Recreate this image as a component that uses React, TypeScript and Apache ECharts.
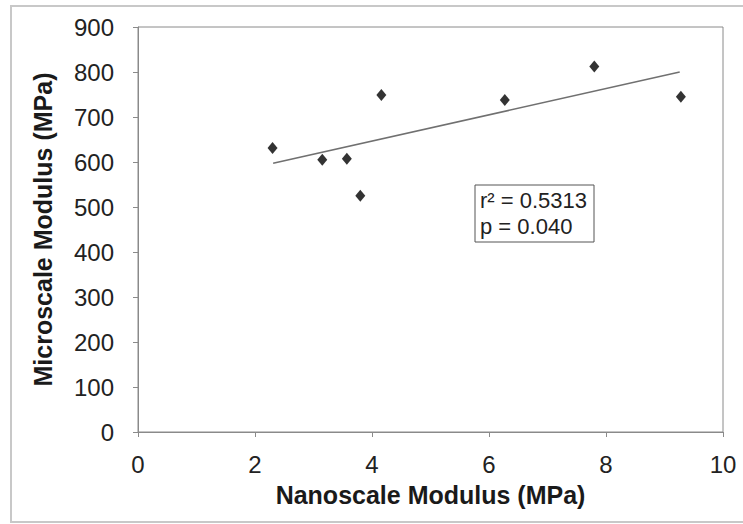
import React, { useEffect, useRef } from "react";
import * as echarts from "echarts";

const nanoModulus = [2.3, 3.15, 3.57, 3.8, 4.16, 6.27, 7.8, 9.28];
const microModulus = [631, 605, 607, 525, 749, 738, 812, 745];
const trendX = [2.31, 9.26];
const trendY = [597, 800];
const xTicks = [0, 2, 4, 6, 8, 10];
const yTicks = [0, 100, 200, 300, 400, 500, 600, 700, 800, 900];
const statLines = ["r² = 0.5313", "p = 0.040"];

export default function App() {
  const ref = useRef<HTMLDivElement>(null);
  useEffect(() => {
    if (!ref.current) return;
    const chart = echarts.init(ref.current, undefined, { renderer: "svg" });
    const font = "'Liberation Sans', Arial, sans-serif";
    chart.setOption({
      animation: false,
      backgroundColor: "#ffffff",
      grid: {
        left: 138,
        right: 20,
        top: 27,
        bottom: 92,
        show: true,
        borderColor: "#8a8a8a",
        borderWidth: 1,
        backgroundColor: "transparent",
      },
      xAxis: {
        type: "value",
        min: xTicks[0],
        max: xTicks[xTicks.length - 1],
        interval: 2,
        name: "Nanoscale Modulus (MPa)",
        nameLocation: "middle",
        nameGap: 50,
        nameTextStyle: { fontFamily: font, fontSize: 25, fontWeight: "bold", color: "#1a1a1a" },
        axisLine: { show: true, lineStyle: { color: "#8a8a8a", width: 1 } },
        axisTick: { show: true, inside: false, length: 5, lineStyle: { color: "#8a8a8a" } },
        axisLabel: { fontFamily: font, fontSize: 24, color: "#222", margin: 20 },
        splitLine: { show: false },
      },
      yAxis: {
        type: "value",
        min: yTicks[0],
        max: yTicks[yTicks.length - 1],
        interval: 100,
        name: "Microscale Modulus (MPa)",
        nameLocation: "middle",
        nameGap: 83,
        nameTextStyle: { fontFamily: font, fontSize: 25, fontWeight: "bold", color: "#1a1a1a" },
        axisLine: { show: true, lineStyle: { color: "#8a8a8a", width: 1 } },
        axisTick: { show: true, inside: false, length: 5, lineStyle: { color: "#8a8a8a" } },
        axisLabel: { fontFamily: font, fontSize: 24, color: "#222", margin: 24 },
        splitLine: { show: false },
      },
      series: [
        {
          type: "line",
          data: trendX.map((x, i) => [x, trendY[i]]),
          showSymbol: false,
          symbol: "none",
          lineStyle: { color: "#707070", width: 1.5 },
          z: 2,
        },
        {
          type: "scatter",
          data: nanoModulus.map((x, i) => [x, microModulus[i]]),
          symbol: "diamond",
          symbolSize: [10, 12],
          itemStyle: { color: "#000" },
          z: 3,
        },
      ],
      graphic: [
        {
          type: "rect",
          shape: { x: 11, y: 6, width: 740, height: 516 },
          style: { fill: "none", stroke: "#c8c8c8", lineWidth: 2 },
          silent: true,
        },
        {
          type: "group",
          x: 475,
          y: 185,
          children: [
            {
              type: "rect",
              shape: { x: 0, y: 0, width: 119, height: 57 },
              style: { fill: "#fff", stroke: "#555", lineWidth: 1 },
            },
            {
              type: "text",
              x: 5,
              y: 15,
              style: { text: statLines[0], font: `22px ${font}`, fill: "#222", verticalAlign: "middle" },
            },
            {
              type: "text",
              x: 5,
              y: 41,
              style: { text: statLines[1], font: `22px ${font}`, fill: "#222", verticalAlign: "middle" },
            },
          ],
        },
      ],
    });
    return () => chart.dispose();
  }, []);
  return (
    <div
      ref={ref}
      style={{ position: "fixed", left: 0, top: 0, width: 743, height: 524 }}
    />
  );
}
